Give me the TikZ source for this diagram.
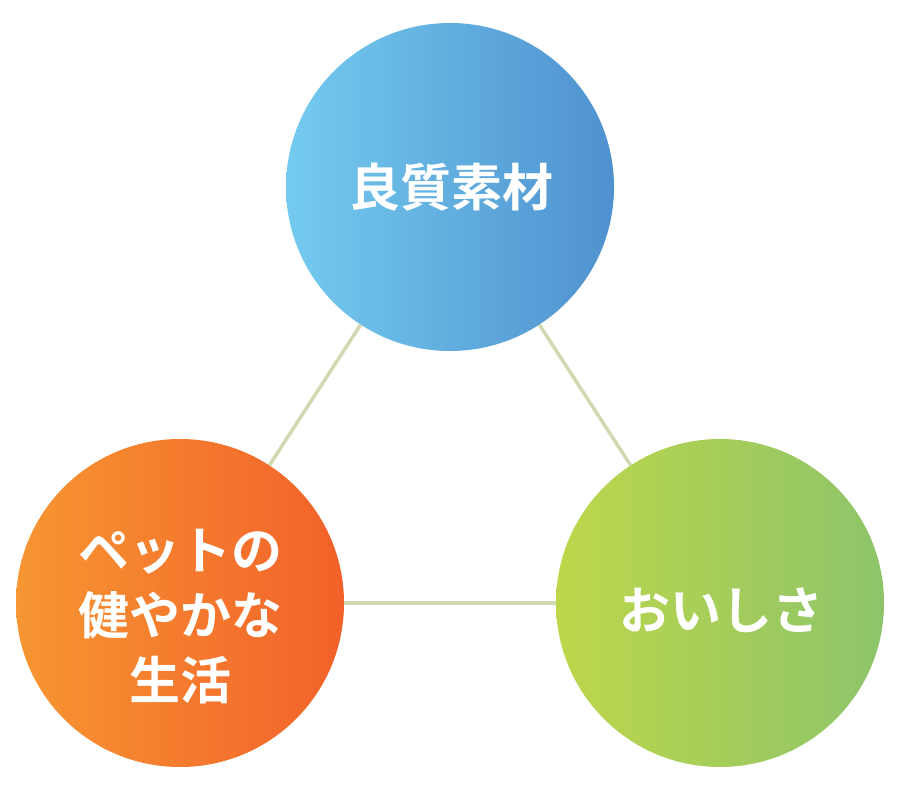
\documentclass[tikz,border=0pt]{standalone}
\usepackage{fontspec}
\newfontfamily\jpfont{Noto Sans CJK JP}[BoldFont={Noto Sans CJK JP Bold}]
\usepackage{tikz}
\usetikzlibrary{positioning,calc}

\definecolor{qualL}{HTML}{74CBEF}
\definecolor{qualR}{HTML}{4F91CF}
\definecolor{petL}{HTML}{F79632}
\definecolor{petR}{HTML}{F2612A}
\definecolor{tasteL}{HTML}{BDD74A}
\definecolor{tasteR}{HTML}{8DC46A}
\definecolor{linkcol}{HTML}{D0DAB0}

\begin{document}
\begin{tikzpicture}[
  x=1pt, y=-1pt,
  font=\jpfont\bfseries\fontsize{51}{65}\selectfont,
  topic/.style={circle, minimum size=328pt, inner sep=0pt, text=white, align=center},
  link/.style={draw=linkcol, line width=3.5pt}
]
  \useasboundingbox (0,0) rectangle (900,790);
  \fill[white] (0,0) rectangle (900,790);
  \node[topic, left color=qualL, right color=qualR] (qual) at (450,187) {};
  \node[topic, left color=petL, right color=petR] (pet) at (180,603) {};
  \node[topic, left color=tasteL, right color=tasteR] (taste) at (720,603) {};
  % links between circles
  \draw[link] (qual) -- (pet);
  \draw[link] (qual) -- (taste);
  \draw[link] (pet) -- (taste);
  \node[text=white] (qualtxt) at (451,187) {良質素材};
  \node[text=white, align=center] (pettxt) at (180,617) {ペットの\\健やかな\\生活};
  \node[text=white] (tastetxt) at (721,610) {おいしさ};
\end{tikzpicture}
\end{document}
